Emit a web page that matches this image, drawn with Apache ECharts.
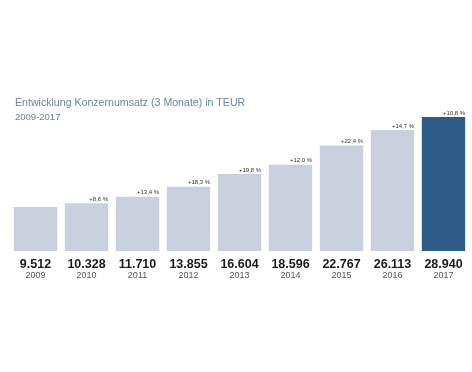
<!DOCTYPE html>
<html><head><meta charset="utf-8">
<script src="https://cdn.jsdelivr.net/npm/echarts@6/dist/echarts.min.js"></script>
<style>html,body{margin:0;padding:0;background:#fff}#c{width:472px;height:372px}</style>
</head><body><div id="c"></div>
<script>
var years = ['2009','2010','2011','2012','2013','2014','2015','2016','2017'];
var revenue = [9512,10328,11710,13855,16604,18596,22767,26113,28940];
var growth = ['','+8,6 %','+13,4 %','+18,3 %','+19,8 %','+12,0 %','+22,4 %','+14,7 %','+10,8 %'];
var valueLabels = ['9.512','10.328','11.710','13.855','16.604','18.596','22.767','26.113','28.940'];

var chart = echarts.init(document.getElementById('c'));
chart.setOption({
  animation:false,
  title:{
    text:'Entwicklung Konzernumsatz (3 Monate) in TEUR',
    subtext:'2009-2017',
    left:10, top:93, itemGap:3,
    textStyle:{fontFamily:'Liberation Sans',fontSize:10.6,fontWeight:'normal',color:'#6685a8'},
    subtextStyle:{fontFamily:'Liberation Sans',fontSize:9.5,color:'#6685a8'}
  },
  grid:{left:10,right:3,top:112,height:139},
  xAxis:{type:'category',data:years,
    axisLine:{show:false},axisTick:{show:false},
    axisLabel:{margin:7,interval:0,
      formatter:function(v,i){return '{v|'+valueLabels[i]+'}\n{y|'+v+'}';},
      rich:{v:{fontFamily:'Liberation Sans',fontSize:12.5,fontWeight:'bold',color:'#1a1a1a',lineHeight:13},
            y:{fontFamily:'Liberation Sans',fontSize:9,color:'#555',lineHeight:10}}}
  },
  yAxis:{type:'value',min:0,max:30000,show:false,splitLine:{show:false}},
  series:[{type:'bar',barCategoryGap:'15%',
    data:revenue.map(function(v,i){return {value:v,itemStyle:{color:i===revenue.length-1?'#2e5c89':'#c9cfdc'}};}),
    label:{show:true,position:['100%',-1],align:'right',verticalAlign:'bottom',
      fontFamily:'Liberation Sans',fontSize:6,color:'#333',
      formatter:function(p){return growth[p.dataIndex];}}
  }]
});
</script></body></html>
